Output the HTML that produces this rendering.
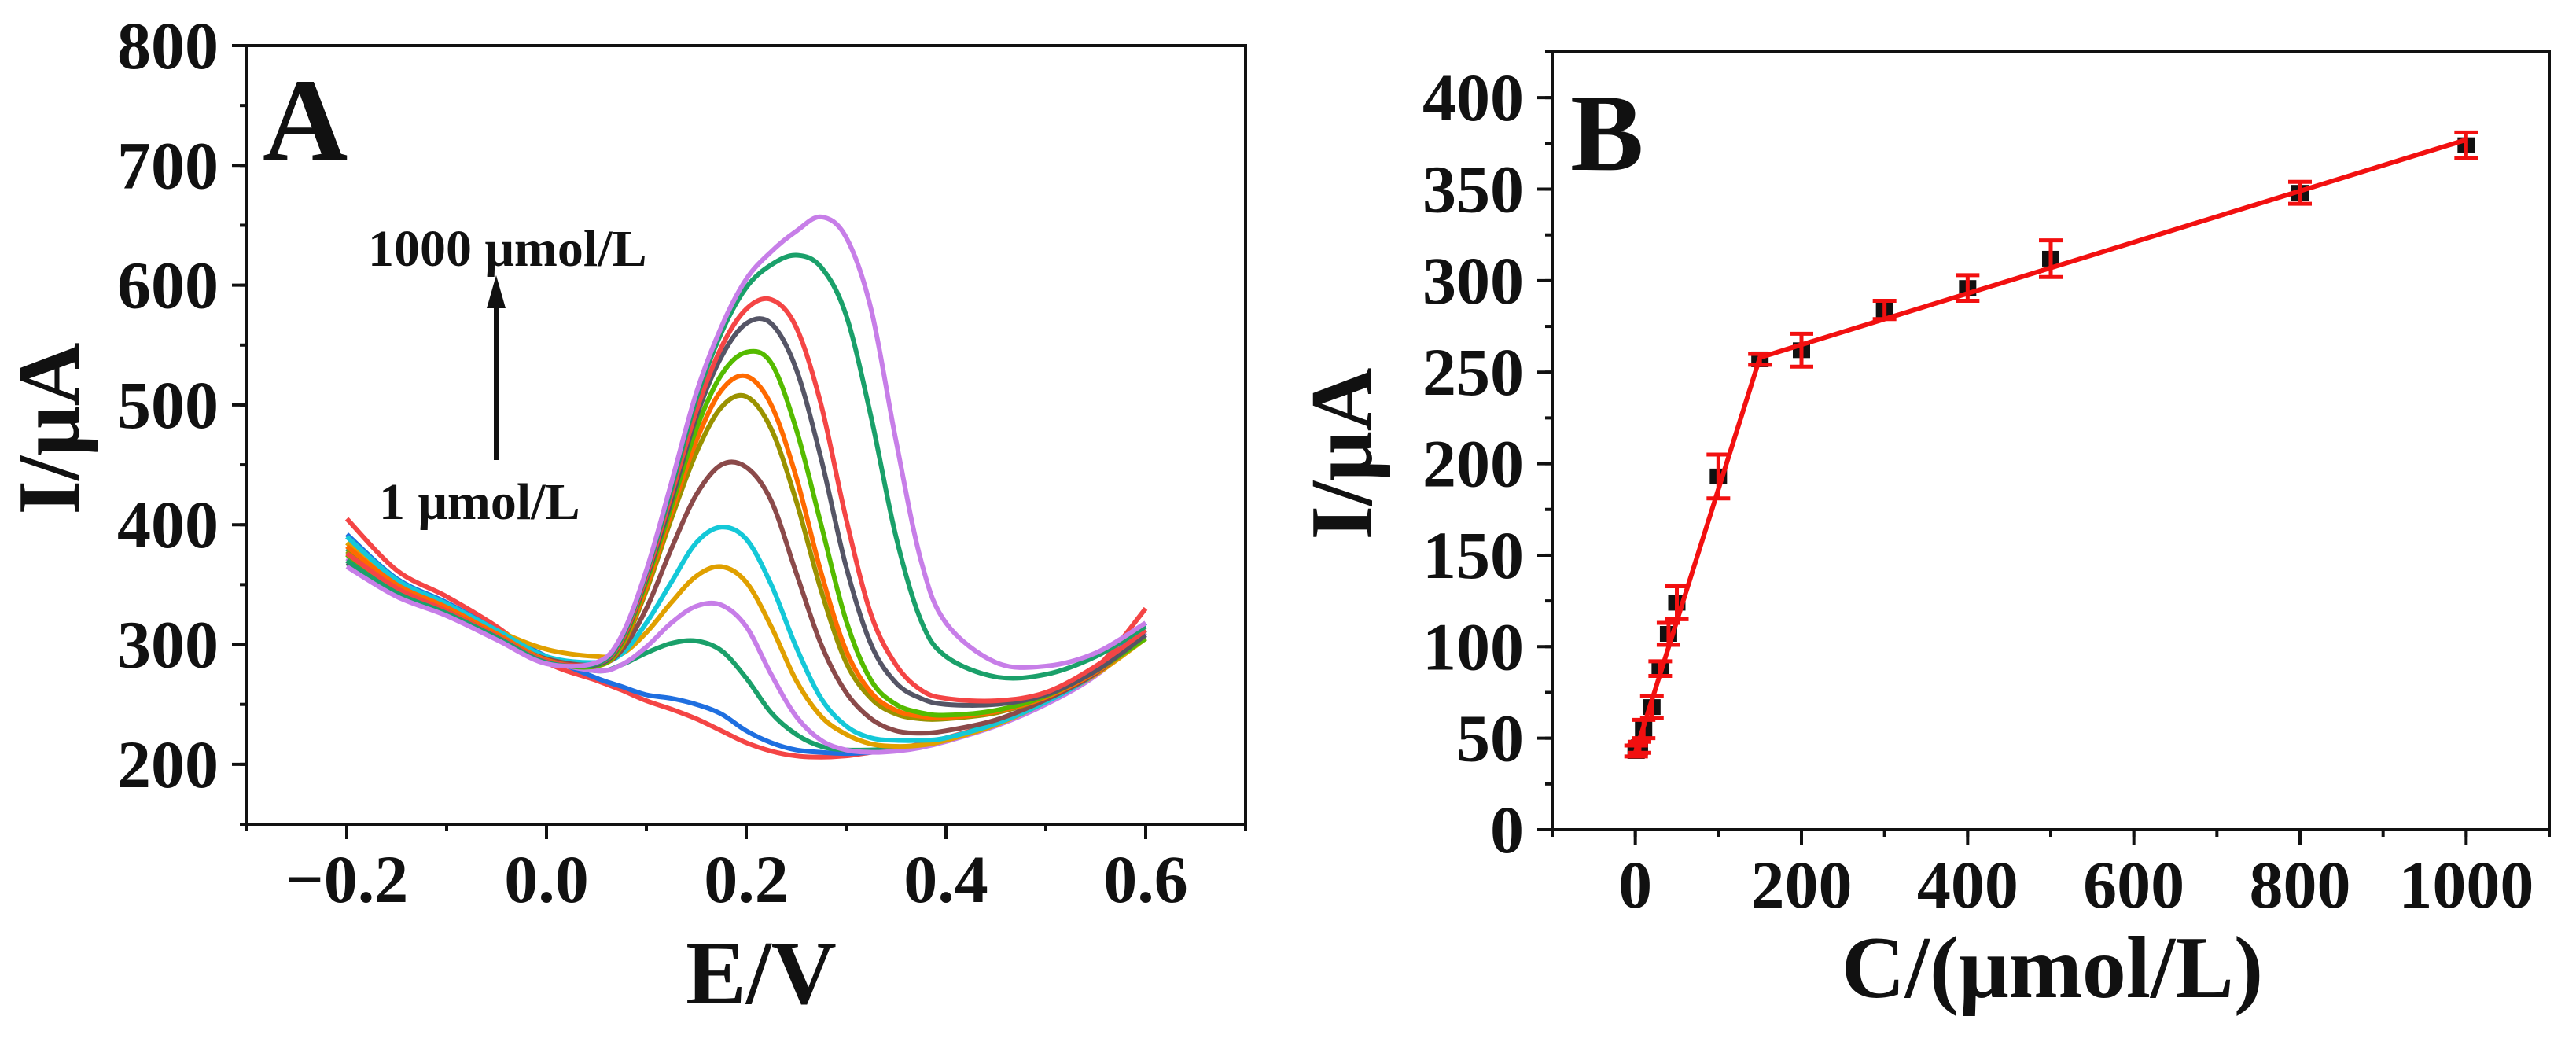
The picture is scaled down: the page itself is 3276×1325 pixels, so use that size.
<!DOCTYPE html>
<html><head><meta charset="utf-8"><style>
html,body{margin:0;padding:0;background:#fff;}
svg{display:block;font-family:"Liberation Serif",serif;font-weight:bold;}
</style></head><body>
<svg id="fig" width="3276" height="1325" viewBox="0 0 3276 1325" xmlns="http://www.w3.org/2000/svg"></svg>
<script>
// ---------- Panel A data ----------
const aE = [-0.2,-0.15,-0.1,-0.05,0,0.05,0.075,0.1,0.125,0.15,0.175,0.2,0.225,0.25,0.275,0.3,0.325,0.35,0.375,0.4,0.45,0.5,0.55,0.6];
const aColors = ['#f44545','#1f6fe0','#1aa06a','#c77ee8','#e0a000','#14c8d8','#8b4a4a','#9a9200','#ff6a00','#55bb00','#555566','#f44545','#1aa06a','#c77ee8'];
const aI1  = [405,362,340,315,285,270,262,253,246,238,228,218,211,207,206,207,210,213,217,222,235,255,280,330];
const aI2  = [392,355,335,312,290,272,265,258,255,250,242,228,218,212,210,209,210,212,216,221,235,255,278,318];
const aI3  = [380,350,330,308,288,278,283,293,301,303,295,272,243,225,215,212,212,213,216,221,235,253,276,305];
const aI4  = [372,345,326,306,287,278,283,298,318,332,333,315,275,240,220,212,210,211,214,219,232,250,274,310];
const aI5  = [385,352,333,312,296,290,292,310,335,357,365,352,315,270,240,225,217,215,216,220,233,252,275,305];
const aI6  = [390,354,334,312,290,285,292,318,352,385,398,388,350,298,255,232,222,220,220,222,234,252,276,312];
const aI7  = [370,344,326,306,288,283,295,330,380,425,450,448,420,360,300,260,238,228,226,228,237,254,276,308];
const aI8  = [378,348,329,308,287,282,298,345,405,460,498,507,480,420,345,285,255,242,238,238,243,256,277,306];
const aI9  = [382,350,331,309,287,282,299,348,410,470,512,524,500,440,360,295,260,245,240,239,244,256,277,306];
const aI10 = [375,346,328,307,286,282,300,352,415,480,525,544,535,480,400,320,270,250,243,241,245,257,278,305];
const aI11 = [368,342,325,305,286,283,302,355,420,490,540,568,568,530,455,365,300,268,255,250,250,258,278,308];
const aI12 = [376,347,328,307,286,284,303,357,425,495,548,580,588,565,500,405,325,283,262,255,253,260,282,312];
const aI13 = [370,343,326,306,285,284,305,360,430,505,560,598,617,625,615,575,490,390,320,290,273,275,290,315];
const aI14 = [365,340,324,304,284,285,307,362,435,510,565,605,628,645,657,640,580,470,370,318,285,282,293,318];
const aSeries = [aI1,aI2,aI3,aI4,aI5,aI6,aI7,aI8,aI9,aI10,aI11,aI12,aI13,aI14];
const aXTicks = [-0.2,0.0,0.2,0.4,0.6];
const aXTickLabels = ['\u22120.2','0.0','0.2','0.4','0.6'];
const aYTicks = [200,300,400,500,600,700,800];

// ---------- Panel B data ----------
const bC = [1,5,10,20,30,40,50,100,150,200,300,400,500,800,1000];
const bI = [43,45,55,67,88,107,124,193,257,262,284,296,312,348,374];
const bErr = [3,3,5,6,4,6,9,12,3,9,5,7,10,6,7];
const bFitX = [0,150,1000];
const bFitY = [42,258,377];
const bXTicks = [0,200,400,600,800,1000];
const bYTicks = [0,50,100,150,200,250,300,350,400];

const NS='http://www.w3.org/2000/svg';
const svg=document.getElementById('fig');
function mk(tag,attrs,parent,text){const e=document.createElementNS(NS,tag);for(const k in attrs)e.setAttribute(k,attrs[k]);if(text!==undefined)e.textContent=text;(parent||svg).appendChild(e);return e;}

const A={l:314,r:1584,t:58,b:1048,x0:-0.3,x1:0.7,y0:150,y1:800};
const B={l:1974,r:3242,t:66,b:1055,x0:-100,x1:1100,y0:0,y1:425};
function sx(P,v){return P.l+(v-P.x0)/(P.x1-P.x0)*(P.r-P.l);}
function sy(P,v){return P.b-(v-P.y0)/(P.y1-P.y0)*(P.b-P.t);}

function smoothPath(pts){
  let d='M'+pts[0][0].toFixed(1)+' '+pts[0][1].toFixed(1);
  for(let i=0;i<pts.length-1;i++){
    const p0=pts[Math.max(0,i-1)],p1=pts[i],p2=pts[i+1],p3=pts[Math.min(pts.length-1,i+2)];
    const c1=[p1[0]+(p2[0]-p0[0])/6,p1[1]+(p2[1]-p0[1])/6];
    const c2=[p2[0]-(p3[0]-p1[0])/6,p2[1]-(p3[1]-p1[1])/6];
    d+=' C'+c1[0].toFixed(1)+' '+c1[1].toFixed(1)+' '+c2[0].toFixed(1)+' '+c2[1].toFixed(1)+' '+p2[0].toFixed(1)+' '+p2[1].toFixed(1);
  }
  return d;
}

function drawAxes(P,xMaj,xMin,yMaj,yMin,xLabs,yLabs,name){
  const g=mk('g',{});
  
  
  const fr=mk('rect',{x:P.l,y:P.t,width:P.r-P.l,height:P.b-P.t,fill:'none',stroke:'#111','stroke-width':4},g);
  
  
  xMin.forEach(v=>{const x=sx(P,v);mk('line',{x1:x,x2:x,y1:P.b,y2:P.b+9,stroke:'#111','stroke-width':4},g);});
  yMin.forEach(v=>{const y=sy(P,v);mk('line',{x1:P.l,x2:P.l-9,y1:y,y2:y,stroke:'#111','stroke-width':4},g);});
  xMaj.forEach((v,i)=>{const x=sx(P,v);mk('line',{x1:x,x2:x,y1:P.b,y2:P.b+19,stroke:'#111','stroke-width':4},g);
    const t=mk('text',{x:x,y:P.b+99,'text-anchor':'middle','font-size':86,fill:'#111'},g,xLabs[i]);
    
    });
  yMaj.forEach((v,i)=>{const y=sy(P,v);mk('line',{x1:P.l,x2:P.l-19,y1:y,y2:y,stroke:'#111','stroke-width':4},g);
    const t=mk('text',{x:P.l-36,y:y+29,'text-anchor':'end','font-size':86,fill:'#111'},g,yLabs[i]);
    
    });
}

// Panel A
const aXMinor=[];for(let v=-0.3;v<=0.701;v+=0.1)aXMinor.push(+v.toFixed(2));
const aYMinor=[];for(let v=150;v<=800;v+=50)aYMinor.push(v);
drawAxes(A,aXTicks,aXMinor,aYTicks,aYMinor,aXTickLabels,aYTicks.map(String),'panel-a');
aSeries.forEach((s,k)=>{
  const pts=aE.map((e,i)=>[sx(A,e),sy(A,s[i])]);
  const p=mk('path',{d:smoothPath(pts),fill:'none',stroke:aColors[k],'stroke-width':6,'stroke-linejoin':'round'});
  
  
});
let t;
t=mk('text',{x:334,y:203,'font-size':150,fill:'#111'},svg,'A');


t=mk('text',{x:468,y:338,'font-size':66,fill:'#111'},svg,'1000 \u03bcmol/L');


t=mk('text',{x:482,y:660,'font-size':66,fill:'#111'},svg,'1 \u03bcmol/L');


const ar=mk('g',{});


mk('line',{x1:631,x2:631,y1:585,y2:385,stroke:'#111','stroke-width':6},ar);
mk('polygon',{points:'619,392 643,392 631,350',fill:'#111'},ar);
t=mk('text',{x:0,y:0,'font-size':112,fill:'#111','text-anchor':'middle',transform:'translate(100,545) rotate(-90)'},svg,'I/\u03bcA');


t=mk('text',{x:968,y:1276,'font-size':115,fill:'#111','text-anchor':'middle'},svg,'E/V');



// Panel B
const bXMinor=[];for(let v=-100;v<=1100;v+=100)bXMinor.push(v);
const bYMinor=[];for(let v=0;v<=425;v+=25)bYMinor.push(v);
drawAxes(B,bXTicks,bXMinor,bYTicks,bYMinor,bXTicks.map(String),bYTicks.map(String),'panel-b');
bC.forEach((c,i)=>{
  const x=sx(B,c),y=sy(B,bI[i]);
  const m=mk('rect',{x:x-11,y:y-10,width:22,height:20,fill:'#111'});
  
  
});
const fit=mk('polyline',{points:bFitX.map((x,i)=>sx(B,x)+','+sy(B,bFitY[i])).join(' '),fill:'none',stroke:'#f21010','stroke-width':6});


bC.forEach((c,i)=>{
  const x=sx(B,c);
  const g=mk('g',{stroke:'#f21010','stroke-width':5});
  
  
  const yt=sy(B,bI[i]+bErr[i]),yb=sy(B,bI[i]-bErr[i]);
  mk('line',{x1:x,x2:x,y1:yt,y2:yb},g);
  mk('line',{x1:x-15,x2:x+15,y1:yt,y2:yt},g);
  mk('line',{x1:x-15,x2:x+15,y1:yb,y2:yb},g);
});
t=mk('text',{x:1997,y:216,'font-size':140,fill:'#111'},svg,'B');


t=mk('text',{x:0,y:0,'font-size':112,fill:'#111','text-anchor':'middle',transform:'translate(1744,577) rotate(-90)'},svg,'I/\u03bcA');


t=mk('text',{x:2610,y:1268,'font-size':112,fill:'#111','text-anchor':'middle'},svg,'C/(\u03bcmol/L)');


</script>
</body></html>
